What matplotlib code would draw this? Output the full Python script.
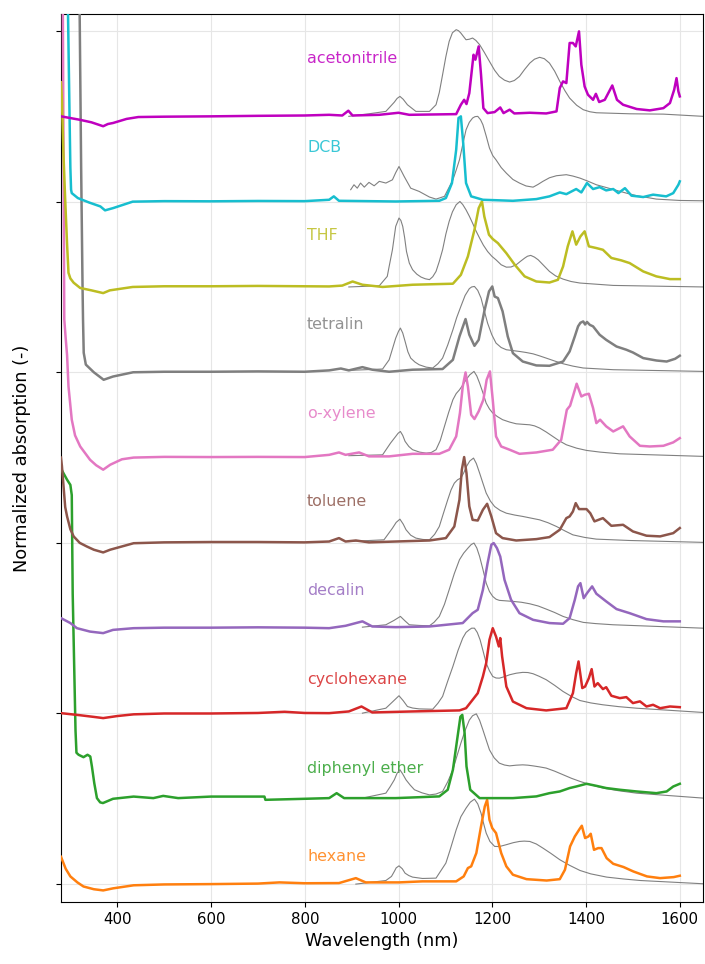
import matplotlib
matplotlib.use("Agg")
import matplotlib.pyplot as plt
import numpy as np

# ---------------------------------------------------------------------------
# Digitised spectra: (wavelength nm, normalized absorption above own baseline)
# ---------------------------------------------------------------------------

solvents = ["hexane", "diphenyl ether", "cyclohexane", "decalin", "toluene",
            "o-xylene", "tetralin", "THF", "DCB", "acetonitrile"]
colors = ["#ff7f0e", "#2ca02c", "#d62728", "#9467bd", "#8c564b",
          "#e377c2", "#7f7f7f", "#bcbd22", "#17becf", "m"]

hexane = [(280, 0.16), (290, 0.09), (300, 0.045), (315, 0.01), (328, -0.014), (350, -0.03),
          (370, -0.037), (391, -0.025), (435, -0.007), (500, -0.002), (600, 0.0), (700, 0.003),
          (746, 0.01), (800, 0.005), (873, 0.006), (909, 0.035), (930, 0.010), (1001, 0.010),
          (1051, 0.016), (1123, 0.016), (1139, 0.045), (1148, 0.094), (1155, 0.104), (1166, 0.182),
          (1176, 0.338), (1184, 0.455), (1189, 0.494), (1194, 0.377), (1200, 0.328), (1208, 0.299),
          (1219, 0.182), (1230, 0.104), (1244, 0.055), (1273, 0.029), (1316, 0.021), (1344, 0.029),
          (1355, 0.084), (1366, 0.221), (1376, 0.279), (1386, 0.322), (1391, 0.342), (1398, 0.270),
          (1405, 0.279), (1410, 0.295), (1417, 0.201), (1426, 0.211), (1433, 0.211), (1444, 0.152),
          (1458, 0.119), (1480, 0.100), (1501, 0.074), (1530, 0.045), (1558, 0.035), (1587, 0.041),
          (1600, 0.049)]
hexane_ref = [(909, 0.0), (973, 0.021), (985, 0.045), (991, 0.074), (995, 0.095), (1001, 0.107),
              (1008, 0.09), (1014, 0.064), (1022, 0.05), (1030, 0.041), (1051, 0.033), (1080, 0.035),
              (1101, 0.123), (1110, 0.2), (1123, 0.318), (1133, 0.395), (1144, 0.445), (1153, 0.48),
              (1162, 0.498), (1169, 0.47), (1176, 0.416), (1182, 0.35), (1187, 0.299), (1195, 0.25),
              (1205, 0.221), (1215, 0.22), (1230, 0.231), (1245, 0.243), (1258, 0.250), (1268, 0.252),
              (1280, 0.250), (1294, 0.235), (1308, 0.211), (1325, 0.18), (1344, 0.143), (1365, 0.11),
              (1387, 0.080), (1410, 0.06), (1444, 0.041), (1480, 0.03), (1516, 0.021), (1650, 0.002)]

diphenyl_ether = [(281, 1.93), (293, 1.87), (300, 1.84), (303, 1.78), (305, 1.2), (308, 0.8),
                  (311, 0.4), (313, 0.27), (317.6, 0.258), (328, 0.244), (336.6, 0.258), (342.5, 0.248),
                  (346, 0.189), (351, 0.092), (356.7, 0.004), (363.6, -0.021), (369.5, -0.025),
                  (391, 0.0), (435, 0.013), (477, 0.004), (498, 0.017), (530, 0.004), (600, 0.013),
                  (714, 0.013), (716, -0.006), (800, 0.0), (852, 0.004), (868, 0.033), (884, 0.004),
                  (994, 0.004), (1087, 0.014), (1105, 0.053), (1116, 0.170), (1126, 0.365), (1132, 0.481),
                  (1136, 0.492), (1141, 0.385), (1145, 0.190), (1153, 0.053), (1173, 0.004), (1244, 0.004),
                  (1294, 0.014), (1322, 0.033), (1344, 0.043), (1365, 0.063), (1379, 0.072), (1401, 0.088),
                  (1422, 0.076), (1443, 0.063), (1472, 0.053), (1508, 0.043), (1550, 0.033), (1572, 0.043),
                  (1586, 0.072), (1600, 0.088)]
diphenyl_ether_ref = [(923, 0.004), (973, 0.033), (982, 0.07), (991, 0.111), (997, 0.15), (1003, 0.170),
                      (1009, 0.145), (1016, 0.111), (1025, 0.08), (1034, 0.053), (1050, 0.035), (1066, 0.023),
                      (1080, 0.028), (1094, 0.043), (1105, 0.1), (1116, 0.170), (1124, 0.245), (1133, 0.326),
                      (1142, 0.4), (1151, 0.461), (1158, 0.487), (1166, 0.498), (1173, 0.46), (1180, 0.404),
                      (1187, 0.345), (1194, 0.287), (1204, 0.24), (1215, 0.209), (1226, 0.198), (1237, 0.193),
                      (1251, 0.197), (1265, 0.199), (1276, 0.197), (1287, 0.193), (1301, 0.187), (1315, 0.180),
                      (1333, 0.162), (1351, 0.141), (1369, 0.12), (1387, 0.102), (1410, 0.082), (1436, 0.063),
                      (1470, 0.047), (1508, 0.033), (1650, 0.004)]

cyclohexane = [(280, 0.002), (320, -0.01), (350, -0.02), (370, -0.027), (400, -0.015), (435, -0.005),
               (500, 0.0), (600, 0.0), (700, 0.003), (757, 0.01), (800, 0.003), (852, 0.002), (894, 0.012),
               (921, 0.041), (944, 0.006), (1030, 0.012), (1130, 0.018), (1144, 0.031), (1158, 0.080),
               (1169, 0.119), (1180, 0.217), (1187, 0.295), (1194, 0.432), (1201, 0.500), (1208, 0.451),
               (1214, 0.393), (1217, 0.442), (1221, 0.334), (1230, 0.158), (1244, 0.070), (1273, 0.031),
               (1315, 0.018), (1358, 0.031), (1372, 0.119), (1379, 0.237), (1384, 0.305), (1392, 0.149),
               (1398, 0.158), (1406, 0.207), (1412, 0.260), (1418, 0.158), (1425, 0.178), (1436, 0.143),
               (1443, 0.154), (1454, 0.104), (1472, 0.090), (1486, 0.096), (1500, 0.061), (1515, 0.071),
               (1529, 0.041), (1543, 0.051), (1558, 0.031), (1579, 0.041), (1600, 0.037)]
cyclohexane_ref = [(923, 0.002), (973, 0.031), (988, 0.07), (1001, 0.104), (1010, 0.075), (1019, 0.041),
                   (1030, 0.032), (1044, 0.027), (1058, 0.026), (1073, 0.025), (1084, 0.06), (1094, 0.100),
                   (1105, 0.19), (1116, 0.276), (1127, 0.37), (1137, 0.442), (1144, 0.475), (1151, 0.491),
                   (1156, 0.5), (1162, 0.500), (1168, 0.475), (1174, 0.432), (1180, 0.37), (1187, 0.295),
                   (1194, 0.25), (1201, 0.217), (1208, 0.208), (1215, 0.207), (1226, 0.216), (1237, 0.227),
                   (1251, 0.236), (1265, 0.241), (1276, 0.24), (1287, 0.233), (1300, 0.218), (1315, 0.198),
                   (1333, 0.165), (1351, 0.129), (1369, 0.1), (1387, 0.076), (1410, 0.062), (1436, 0.051),
                   (1470, 0.04), (1508, 0.031), (1650, 0.006)]

decalin = [(280, 0.059), (300, 0.03), (314, 0.0), (342, -0.02), (370, -0.029), (391, -0.01), (435, 0.0),
           (500, 0.003), (600, 0.003), (700, 0.005), (800, 0.003), (852, 0.0), (887, 0.014), (923, 0.040),
           (944, 0.010), (994, 0.006), (1066, 0.010), (1137, 0.030), (1158, 0.088), (1169, 0.108),
           (1180, 0.225), (1190, 0.381), (1198, 0.489), (1203, 0.499), (1210, 0.469), (1217, 0.420),
           (1226, 0.284), (1240, 0.167), (1258, 0.088), (1287, 0.049), (1322, 0.030), (1351, 0.026),
           (1365, 0.059), (1376, 0.166), (1383, 0.245), (1388, 0.264), (1395, 0.176), (1402, 0.205),
           (1413, 0.245), (1422, 0.202), (1443, 0.157), (1465, 0.112), (1493, 0.088), (1529, 0.053),
           (1565, 0.040), (1600, 0.040)]
decalin_ref = [(923, 0.006), (973, 0.020), (990, 0.045), (1004, 0.069), (1013, 0.045), (1023, 0.020),
               (1045, 0.016), (1066, 0.014), (1076, 0.035), (1087, 0.069), (1098, 0.14), (1108, 0.225),
               (1119, 0.32), (1130, 0.401), (1139, 0.44), (1148, 0.469), (1155, 0.49), (1161, 0.499),
               (1167, 0.47), (1173, 0.420), (1180, 0.345), (1187, 0.264), (1194, 0.215), (1201, 0.186),
               (1208, 0.17), (1215, 0.163), (1230, 0.16), (1244, 0.157), (1262, 0.152), (1280, 0.143),
               (1298, 0.13), (1315, 0.112), (1333, 0.092), (1351, 0.069), (1372, 0.05), (1394, 0.034),
               (1420, 0.027), (1458, 0.020), (1650, 0.0)]

toluene = [(280, 0.5), (282, 0.45), (289, 0.21), (293, 0.155), (300, 0.08), (307, 0.038), (320, 0.0),
           (335, -0.021), (350, -0.04), (370, -0.056), (385, -0.04), (435, -0.002), (500, 0.003),
           (600, 0.005), (700, 0.005), (800, 0.003), (852, 0.008), (873, 0.028), (887, 0.008), (909, 0.014),
           (937, 0.003), (994, 0.008), (1066, 0.014), (1101, 0.028), (1119, 0.096), (1130, 0.253),
           (1135, 0.428), (1140, 0.503), (1145, 0.409), (1151, 0.214), (1158, 0.135), (1169, 0.131),
           (1180, 0.194), (1189, 0.229), (1198, 0.155), (1208, 0.057), (1222, 0.028), (1251, 0.014),
           (1294, 0.022), (1322, 0.034), (1344, 0.077), (1358, 0.145), (1365, 0.155), (1372, 0.184),
           (1378, 0.233), (1385, 0.198), (1401, 0.198), (1409, 0.174), (1418, 0.126), (1436, 0.145),
           (1454, 0.100), (1479, 0.106), (1500, 0.067), (1529, 0.042), (1558, 0.038), (1586, 0.057),
           (1600, 0.087)]
toluene_ref = [(894, 0.008), (969, 0.018), (987, 0.086), (995, 0.12), (1003, 0.139), (1010, 0.11),
               (1016, 0.077), (1026, 0.045), (1037, 0.028), (1052, 0.02), (1066, 0.018), (1077, 0.05),
               (1087, 0.096), (1096, 0.175), (1105, 0.253), (1112, 0.31), (1119, 0.350), (1126, 0.37),
               (1133, 0.380), (1139, 0.41), (1145, 0.448), (1152, 0.48), (1160, 0.497), (1166, 0.465),
               (1173, 0.409), (1180, 0.35), (1187, 0.292), (1196, 0.245), (1205, 0.213), (1217, 0.19),
               (1230, 0.174), (1248, 0.163), (1265, 0.155), (1283, 0.145), (1301, 0.135), (1319, 0.118),
               (1337, 0.096), (1355, 0.07), (1372, 0.047), (1397, 0.032), (1422, 0.022), (1493, 0.014),
               (1650, 0.003)]

o_xylene = [(280, 3.5), (284, 2.6), (287, 0.81), (290, 0.7), (293, 0.6), (296, 0.417), (303, 0.222),
            (310, 0.13), (321, 0.065), (342, -0.013), (355, -0.045), (370, -0.071), (385, -0.042),
            (410, -0.01), (435, 0.0), (500, 0.004), (600, 0.003), (700, 0.004), (800, 0.003), (852, 0.016),
            (873, 0.030), (887, 0.016), (916, 0.030), (937, 0.007), (980, 0.007), (1030, 0.022),
            (1087, 0.022), (1108, 0.046), (1123, 0.124), (1131, 0.261), (1137, 0.417), (1143, 0.499),
            (1148, 0.417), (1155, 0.251), (1162, 0.226), (1171, 0.271), (1181, 0.339), (1188, 0.456),
            (1195, 0.505), (1201, 0.339), (1208, 0.124), (1219, 0.065), (1237, 0.046), (1258, 0.022),
            (1294, 0.030), (1329, 0.046), (1347, 0.104), (1359, 0.280), (1366, 0.304), (1373, 0.368),
            (1380, 0.433), (1390, 0.358), (1397, 0.368), (1406, 0.374), (1415, 0.290), (1422, 0.202),
            (1430, 0.222), (1443, 0.183), (1458, 0.153), (1479, 0.183), (1493, 0.124), (1515, 0.069),
            (1536, 0.065), (1565, 0.069), (1586, 0.089), (1600, 0.114)]
o_xylene_ref = [(894, 0.011), (966, 0.016), (983, 0.085), (994, 0.124), (999, 0.142), (1004, 0.153),
                (1009, 0.13), (1014, 0.095), (1022, 0.065), (1030, 0.046), (1045, 0.032), (1059, 0.026),
                (1070, 0.03), (1080, 0.046), (1089, 0.1), (1098, 0.183), (1107, 0.265), (1116, 0.339),
                (1123, 0.375), (1130, 0.397), (1137, 0.425), (1144, 0.456), (1152, 0.485), (1161, 0.505),
                (1167, 0.478), (1173, 0.436), (1180, 0.38), (1187, 0.319), (1194, 0.285), (1201, 0.261),
                (1211, 0.24), (1222, 0.222), (1237, 0.208), (1251, 0.198), (1265, 0.195), (1280, 0.192),
                (1290, 0.186), (1301, 0.173), (1315, 0.15), (1329, 0.124), (1343, 0.098), (1358, 0.075),
                (1380, 0.055), (1401, 0.042), (1430, 0.032), (1472, 0.022), (1650, 0.007)]

tetralin = [(280, 5.0), (319.5, 2.2), (323, 1.2), (326, 0.5), (327, 0.31), (328.5, 0.114), (333, 0.045),
            (350, 0.0), (371, -0.044), (391, -0.025), (434, 0.0), (500, 0.003), (600, 0.003), (700, 0.005),
            (800, 0.003), (852, 0.011), (877, 0.022), (894, 0.011), (923, 0.030), (944, 0.015), (980, 0.003),
            (1030, 0.015), (1094, 0.019), (1116, 0.073), (1130, 0.210), (1143, 0.312), (1151, 0.220),
            (1162, 0.155), (1171, 0.190), (1183, 0.357), (1193, 0.474), (1200, 0.503), (1205, 0.444),
            (1212, 0.435), (1222, 0.357), (1233, 0.210), (1244, 0.112), (1265, 0.063), (1294, 0.040),
            (1322, 0.038), (1351, 0.063), (1365, 0.122), (1376, 0.210), (1383, 0.269), (1388, 0.290),
            (1394, 0.298), (1398, 0.280), (1402, 0.295), (1408, 0.278), (1415, 0.269), (1429, 0.220),
            (1443, 0.190), (1465, 0.151), (1486, 0.132), (1500, 0.116), (1522, 0.083), (1550, 0.069),
            (1572, 0.063), (1590, 0.079), (1600, 0.097)]
tetralin_ref = [(894, 0.011), (966, 0.019), (980, 0.073), (994, 0.200), (1000, 0.24), (1004, 0.259),
                (1009, 0.23), (1014, 0.181), (1020, 0.12), (1026, 0.083), (1035, 0.06), (1044, 0.044),
                (1059, 0.03), (1073, 0.025), (1084, 0.05), (1094, 0.083), (1105, 0.16), (1116, 0.249),
                (1124, 0.32), (1133, 0.386), (1142, 0.45), (1151, 0.490), (1156, 0.5), (1162, 0.503),
                (1169, 0.48), (1176, 0.435), (1183, 0.36), (1190, 0.288), (1199, 0.22), (1208, 0.171),
                (1219, 0.145), (1230, 0.132), (1244, 0.127), (1258, 0.122), (1272, 0.116), (1287, 0.108),
                (1301, 0.096), (1315, 0.083), (1333, 0.066), (1351, 0.050), (1372, 0.036), (1394, 0.025),
                (1458, 0.015), (1650, 0.005)]

thf = [(280, 1.2), (282, 1.1), (285, 0.8), (289, 0.51), (293, 0.25), (296, 0.083), (300, 0.05),
       (307, 0.025), (321, -0.006), (345, -0.02), (370, -0.036), (384, -0.02), (433, 0.0), (500, 0.004),
       (600, 0.004), (700, 0.006), (800, 0.004), (852, 0.003), (880, 0.008), (902, 0.032), (923, 0.013),
       (966, 0.0), (1030, 0.013), (1116, 0.019), (1133, 0.071), (1148, 0.179), (1162, 0.335), (1171, 0.462),
       (1178, 0.502), (1183, 0.413), (1193, 0.306), (1201, 0.281), (1212, 0.257), (1230, 0.198),
       (1248, 0.130), (1269, 0.062), (1294, 0.032), (1322, 0.026), (1340, 0.042), (1351, 0.120),
       (1361, 0.238), (1371, 0.326), (1379, 0.248), (1388, 0.296), (1397, 0.326), (1406, 0.238),
       (1422, 0.228), (1436, 0.218), (1454, 0.170), (1475, 0.156), (1493, 0.140), (1522, 0.091),
       (1550, 0.062), (1579, 0.046), (1600, 0.046)]
thf_ref = [(894, 0.0), (959, 0.007), (976, 0.062), (980, 0.12), (987, 0.218), (994, 0.355), (1001, 0.404),
           (1005, 0.39), (1009, 0.355), (1013, 0.29), (1017, 0.208), (1023, 0.14), (1030, 0.101),
           (1039, 0.075), (1048, 0.058), (1057, 0.048), (1066, 0.043), (1073, 0.06), (1080, 0.091),
           (1087, 0.15), (1094, 0.218), (1101, 0.31), (1108, 0.384), (1115, 0.44), (1123, 0.482),
           (1131, 0.501), (1137, 0.483), (1144, 0.452), (1151, 0.415), (1158, 0.374), (1165, 0.33),
           (1173, 0.286), (1181, 0.245), (1190, 0.208), (1199, 0.18), (1208, 0.159), (1219, 0.13),
           (1230, 0.116), (1240, 0.117), (1251, 0.130), (1260, 0.15), (1269, 0.169), (1275, 0.18),
           (1282, 0.185), (1290, 0.175), (1298, 0.159), (1310, 0.125), (1322, 0.091), (1335, 0.065),
           (1351, 0.046), (1368, 0.032), (1387, 0.023), (1458, 0.009), (1650, 0.0)]

dcb = [(280, 4.0), (294, 1.5), (295, 1.1), (298, 0.55), (300, 0.2), (301.5, 0.07), (303, 0.05),
       (316, 0.021), (340, -0.005), (364, -0.028), (374, -0.051), (391, -0.038), (433, 0.0), (500, 0.003),
       (600, 0.002), (700, 0.004), (800, 0.003), (852, 0.011), (862, 0.031), (873, 0.005), (994, 0.001),
       (1087, 0.005), (1101, 0.021), (1114, 0.109), (1123, 0.304), (1128, 0.490), (1133, 0.500),
       (1138, 0.343), (1144, 0.109), (1155, 0.031), (1180, 0.011), (1244, 0.005), (1294, 0.015),
       (1322, 0.031), (1344, 0.054), (1358, 0.044), (1379, 0.074), (1390, 0.054), (1402, 0.109),
       (1415, 0.074), (1429, 0.085), (1443, 0.066), (1458, 0.074), (1469, 0.050), (1483, 0.079),
       (1497, 0.035), (1522, 0.027), (1543, 0.041), (1571, 0.031), (1586, 0.050), (1597, 0.099),
       (1600, 0.119)]
dcb_ref = [(898, 0.070), (905, 0.099), (912, 0.079), (919, 0.109), (927, 0.085), (937, 0.113), (948, 0.093),
           (959, 0.119), (973, 0.109), (987, 0.128), (994, 0.17), (1001, 0.206), (1006, 0.18), (1012, 0.148),
           (1026, 0.079), (1044, 0.060), (1066, 0.027), (1080, 0.015), (1098, 0.031), (1116, 0.128),
           (1123, 0.185), (1130, 0.245), (1137, 0.335), (1144, 0.421), (1151, 0.465), (1158, 0.490),
           (1163, 0.498), (1169, 0.500), (1175, 0.48), (1180, 0.451), (1187, 0.385), (1194, 0.314),
           (1201, 0.27), (1208, 0.245), (1219, 0.2), (1230, 0.167), (1244, 0.13), (1258, 0.109),
           (1272, 0.092), (1287, 0.085), (1297, 0.1), (1308, 0.119), (1322, 0.14), (1337, 0.152),
           (1358, 0.158), (1372, 0.15), (1387, 0.138), (1404, 0.12), (1422, 0.099), (1443, 0.083),
           (1465, 0.066), (1486, 0.05), (1508, 0.035), (1550, 0.015), (1600, 0.007), (1650, 0.005)]

acetonitrile = [(280, 0.0), (300, -0.01), (320, -0.02), (345, -0.035), (370, -0.058), (380, -0.045),
                (391, -0.039), (420, -0.015), (445, -0.004), (500, -0.002), (600, 0.0), (700, 0.003),
                (800, 0.005), (852, 0.009), (880, 0.005), (893, 0.033), (902, 0.005), (959, 0.009),
                (1000, 0.021), (1023, 0.009), (1123, 0.013), (1133, 0.068), (1140, 0.097), (1145, 0.072),
                (1151, 0.136), (1160, 0.361), (1164, 0.332), (1171, 0.410), (1176, 0.244), (1181, 0.048),
                (1190, 0.019), (1205, 0.025), (1217, 0.052), (1224, 0.019), (1237, 0.039), (1247, 0.017),
                (1280, 0.021), (1315, 0.017), (1337, 0.029), (1344, 0.166), (1351, 0.205), (1358, 0.195),
                (1365, 0.430), (1372, 0.430), (1378, 0.410), (1385, 0.498), (1390, 0.302), (1397, 0.175),
                (1404, 0.127), (1415, 0.097), (1421, 0.132), (1428, 0.084), (1440, 0.097), (1456, 0.181),
                (1466, 0.097), (1479, 0.068), (1508, 0.043), (1536, 0.035), (1565, 0.048), (1579, 0.078),
                (1588, 0.156), (1593, 0.224), (1597, 0.146), (1600, 0.117)]
acetonitrile_ref = [(894, 0.0), (937, 0.015), (973, 0.029), (991, 0.083), (997, 0.105), (1003, 0.117),
                    (1010, 0.10), (1019, 0.068), (1037, 0.029), (1066, 0.029), (1080, 0.068), (1087, 0.14),
                    (1094, 0.244), (1101, 0.35), (1108, 0.439), (1115, 0.49), (1123, 0.508), (1128, 0.502),
                    (1133, 0.488), (1138, 0.47), (1144, 0.449), (1151, 0.452), (1158, 0.459), (1165, 0.445),
                    (1173, 0.420), (1183, 0.375), (1194, 0.322), (1205, 0.27), (1215, 0.234), (1226, 0.212),
                    (1237, 0.201), (1247, 0.21), (1258, 0.234), (1269, 0.275), (1280, 0.312), (1290, 0.335),
                    (1301, 0.346), (1311, 0.338), (1322, 0.312), (1333, 0.265), (1344, 0.205), (1355, 0.15),
                    (1365, 0.107), (1380, 0.065), (1394, 0.039), (1408, 0.027), (1422, 0.021), (1493, 0.015),
                    (1565, 0.013), (1650, 0.0)]

samples = [hexane, diphenyl_ether, cyclohexane, decalin, toluene,
           o_xylene, tetralin, thf, dcb, acetonitrile]
references = [hexane_ref, diphenyl_ether_ref, cyclohexane_ref, decalin_ref, toluene_ref,
              o_xylene_ref, tetralin_ref, thf_ref, dcb_ref, acetonitrile_ref]


# ---------------------------------------------------------------------------
# Plot
# ---------------------------------------------------------------------------

def split(points):
    arr = np.asarray(points, dtype=float)
    return arr[:, 0], arr[:, 1]


fig = plt.figure(figsize=(7.05, 9.64), dpi=100)
ax = fig.add_axes([0.0865, 0.0643, 0.911, 0.9212])

step = 0.5
for i, (name, col, spec, ref) in enumerate(zip(solvents, colors, samples, references)):
    offset = i * step
    wl, val = split(ref)
    ax.plot(wl, val + offset, color="gray", lw=0.8, zorder=2)
    wl, val = split(spec)
    ax.plot(wl, val + offset, color=col, lw=1.8, zorder=3)
    ax.text(805, 0.16 + 0.52 * i, name, color=col, alpha=0.85,
            fontsize=11.4, va="center", ha="left", zorder=1)

ax.set_xlim(280, 1650)
ax.set_ylim(-0.105, 5.1)
ax.set_xticks([400, 600, 800, 1000, 1200, 1400, 1600])
ax.set_yticks(np.arange(0, 6, 1))
ax.set_yticklabels([])
ax.tick_params(axis="x", labelsize=10.8)
ax.grid(True, color="#e6e6e6", lw=0.8, zorder=0)
ax.set_axisbelow(True)

ax.set_xlabel("Wavelength (nm)", fontsize=12.8)
ax.set_ylabel("Normalized absorption (-)", fontsize=12.8)
ax.yaxis.set_label_coords(-0.047, 0.5)

fig.savefig("out.png", dpi=100)
